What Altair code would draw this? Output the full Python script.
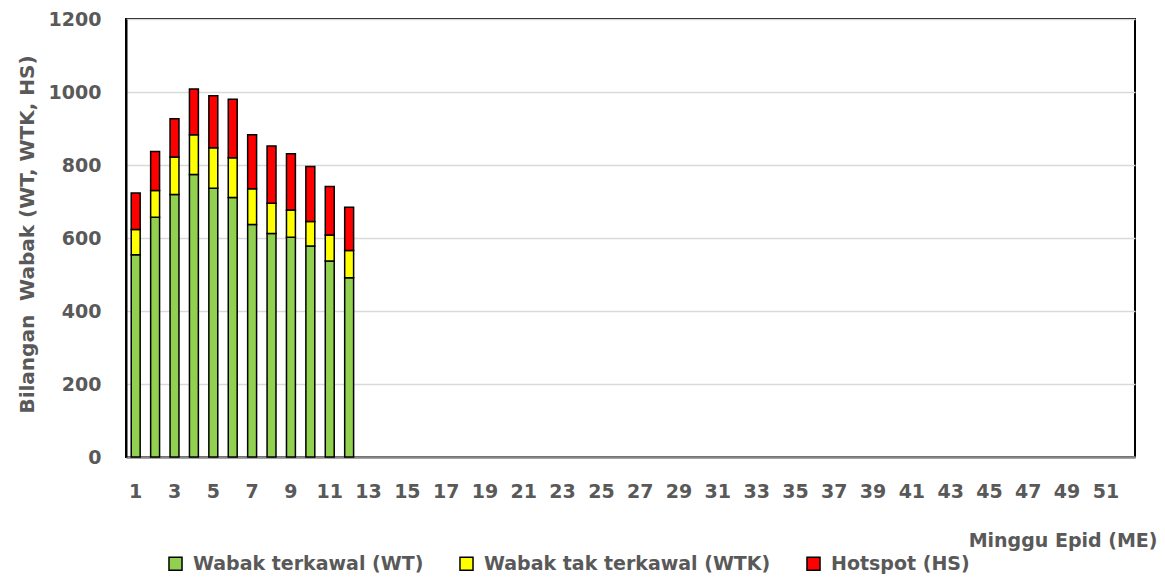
import altair as alt
import pandas as pd

weeks_domain = list(range(1, 53))
weeks = [1, 2, 3, 4, 5, 6, 7, 8, 9, 10, 11, 12]
wt = [554, 657, 719, 774, 736, 711, 637, 612, 602, 578, 537, 491]
wtk = [69, 73, 103, 109, 111, 109, 98, 83, 75, 67, 71, 75]
hs = [100, 107, 105, 125, 143, 160, 148, 157, 154, 151, 133, 118]
series = ["Wabak terkawal (WT)", "Wabak tak terkawal (WTK)", "Hotspot (HS)"]
colors = ["#92D050", "#FFFF00", "#FF0000"]
y_ticks = [0, 200, 400, 600, 800, 1000, 1200]

rows = []
for i, w in enumerate(weeks):
    for k, (name, vals) in enumerate(zip(series, [wt, wtk, hs])):
        rows.append({"week": w, "series": name, "value": vals[i], "ord": k})
df = pd.DataFrame(rows)

FONT = "DejaVu Sans"
GREY = "#595959"

chart = alt.Chart(df).mark_bar(stroke="black", strokeWidth=1.5).encode(
    x=alt.X("week:O",
            scale=alt.Scale(domain=weeks_domain, paddingInner=0.54, paddingOuter=0.27),
            axis=alt.Axis(
                title="Minggu Epid (ME)",
                labelAngle=0,
                labelExpr="datum.value % 2 == 1 ? datum.label : ''",
                ticks=False,
                labelPadding=25,
                labelFont=FONT, labelFontSize=19, labelFontWeight="bold", labelColor=GREY,
                titleFont=FONT, titleFontSize=19, titleFontWeight="bold", titleColor=GREY,
                titleX=1031, titleY=83, titleAlign="right", titleBaseline="middle",
                domainColor="#898989", domainWidth=2.5,
                grid=False,
            )),
    y=alt.Y("value:Q",
            stack="zero",
            scale=alt.Scale(domain=[0, 1200], nice=False),
            axis=alt.Axis(
                title="Bilangan\u00a0 Wabak (WT, WTK, HS)",
                values=y_ticks,
                format="d",
                ticks=False,
                labelPadding=25,
                labelFont=FONT, labelFontSize=19, labelFontWeight="bold", labelColor=GREY,
                titleFont=FONT, titleFontSize=20, titleFontWeight="bold", titleColor=GREY,
                titleLimit=500,
                titleX=-99, titleY=215, titleAngle=270, titleAlign="center", titleBaseline="middle",
                domainColor="black", domainWidth=2,
                gridColor="#D9D9D9", gridWidth=1.5,
            )),
    color=alt.Color("series:N",
                    scale=alt.Scale(domain=series, range=colors),
                    legend=alt.Legend(
                        title=None, orient="none", direction="horizontal",
                        legendX=40, legendY=535,
                        symbolType="square", symbolSize=170,
                        symbolStrokeColor="black", symbolStrokeWidth=1.5,
                        labelFont=FONT, labelFontSize=19, labelFontWeight="bold", labelColor=GREY,
                        labelLimit=0,
                        labelOffset=8, columnPadding=32,
                    )),
    order=alt.Order("ord:Q"),
).properties(
    width=1009, height=438,
    autosize=alt.AutoSizeParams(type="none"),
    padding={"left": 118, "top": 11, "right": 22, "bottom": 121},
).configure_view(
    stroke="black", strokeWidth=2,
)

chart.save("out.html", embed_options={"renderer": "svg", "actions": False})
